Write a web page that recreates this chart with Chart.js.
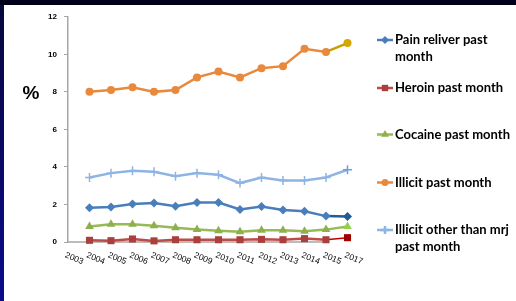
<!DOCTYPE html>
<html>
<head>
<meta charset="utf-8">
<script src="https://cdn.jsdelivr.net/npm/chart.js@4/dist/chart.umd.min.js"></script>
<style>
html, body { margin: 0; padding: 0; }
body { width: 516px; height: 301px; overflow: hidden; position: relative;
  background: linear-gradient(180deg, #07073c 0%, #0b0b8c 100%); }
#topband { position: absolute; left: 0; top: 0; width: 516px; height: 5px; background: #00001a; }
#panel { position: absolute; left: 4px; top: 5px; width: 512px; height: 296px; background: #fff; }
</style>
</head>
<body>
<div id="topband"></div>
<div id="panel"><canvas id="drugChart" width="512" height="296"></canvas></div>
<script>
// tick labels along the bottom (2016 is missing in the original)
const axisLabels = ['2003', '2004', '2005', '2006', '2007', '2008', '2009', '2010',
  '2011', '2012', '2013', '2014', '2015', '2017'];
// years that have data
const years = ['2004', '2005', '2006', '2007', '2008', '2009', '2010',
  '2011', '2012', '2013', '2014', '2015', '2017'];

const painReliever = [1.82, 1.87, 2.03, 2.08, 1.9, 2.1, 2.1, 1.73, 1.89, 1.71, 1.64, 1.38, 1.36];
const heroin = [0.09, 0.07, 0.16, 0.06, 0.12, 0.12, 0.12, 0.12, 0.14, 0.12, 0.18, 0.12, 0.23];
const cocaine = [0.83, 0.94, 0.94, 0.87, 0.76, 0.67, 0.6, 0.55, 0.62, 0.63, 0.57, 0.66, 0.83];
const illicit = [8.0, 8.1, 8.24, 8.0, 8.1, 8.77, 9.08, 8.77, 9.26, 9.37, 10.3, 10.13, 10.6];
const illicitOther = [3.44, 3.67, 3.79, 3.74, 3.51, 3.67, 3.58, 3.14, 3.44, 3.28, 3.28, 3.44, 3.85];

const yTicks = [0, 2, 4, 6, 8, 10, 12];

const last = years.length - 1;
const toPoints = vals => vals.map((v, i) => ({ x: axisLabels.indexOf(years[i]), y: v }));

function series(label, vals, o) {
  return {
    label: label,
    data: toPoints(vals),
    borderColor: o.color,
    borderWidth: 2.5,
    pointStyle: o.style,
    pointRadius: o.radius,
    pointBorderWidth: o.style === 'cross' ? 1.5 : 0,
    pointBackgroundColor: ctx => ctx.dataIndex === last ? o.lastMarker : o.marker,
    pointBorderColor: ctx => ctx.dataIndex === last ? o.lastMarker : o.marker,
    segment: {
      borderColor: ctx => ctx.p1DataIndex === last ? o.lastLine : undefined,
      borderWidth: ctx => ctx.p1DataIndex === last ? (o.lastWidth || 2.5) : undefined
    },
    clip: false,
    tension: 0
  };
}

const datasets = [
  series('Pain reliver past month', painReliever,
    { color: '#4a7ebb', marker: '#4a7ebb', lastLine: '#1f5c99', lastMarker: '#1f5c99', style: 'rectRot', radius: 4.5 }),
  series('Heroin past month', heroin,
    { color: '#be4b48', marker: '#a9403d', lastLine: '#c00000', lastMarker: '#a00000', lastWidth: 1.5, style: 'rect', radius: 5 }),
  series('Cocaine past month', cocaine,
    { color: '#98b954', marker: '#8db04c', lastLine: '#9bbb59', lastMarker: '#92d050', style: 'triangle', radius: 5 }),
  series('Illicit past month', illicit,
    { color: '#e8893c', marker: '#e8893c', lastLine: '#c5a000', lastMarker: '#d4a800', style: 'circle', radius: 4 }),
  series('Illicit other than mrj past month', illicitOther,
    { color: '#8eb4e3', marker: '#8eb4e3', lastLine: '#8eb4e3', lastMarker: '#6fa0dc', style: 'cross', radius: 4.5 })
];

// legend rows: text lines and y position of first line
const legendRows = [
  { lines: ['Pain reliver past', 'month'], y: 35 },
  { lines: ['Heroin past month'], y: 83 },
  { lines: ['Cocaine past month'], y: 129.5 },
  { lines: ['Illicit past month'], y: 177.5 },
  { lines: ['Illicit other than mrj', 'past month'], y: 225 }
];

const extras = {
  id: 'extras',
  beforeDatasetsDraw(chart) {
    // x axis line only runs to the 2015 position
    const ctx = chart.ctx;
    const xs = chart.scales.x;
    const y = chart.chartArea.bottom;
    ctx.save();
    ctx.strokeStyle = '#a6a6a6';
    ctx.lineWidth = 1.5;
    ctx.beginPath();
    ctx.moveTo(xs.getPixelForValue(0), y);
    ctx.lineTo(xs.getPixelForValue(axisLabels.indexOf('2015')) + 2, y);
    ctx.stroke();
    ctx.restore();
  },
  afterDraw(chart) {
    const ctx = chart.ctx;
    const xs = chart.scales.x;
    ctx.save();
    // rotated year labels
    ctx.fillStyle = '#000';
    ctx.font = '8.5px "Liberation Sans", Arial, sans-serif';
    ctx.textAlign = 'left';
    ctx.textBaseline = 'top';
    axisLabels.forEach((lab, i) => {
      ctx.save();
      ctx.translate(xs.getPixelForValue(i) - 1, chart.chartArea.bottom + 9);
      ctx.rotate(22 * Math.PI / 180);
      ctx.fillText(lab, 0, 0);
      ctx.restore();
    });
    // percent sign
    ctx.font = 'bold 19px "Liberation Sans", Arial, sans-serif';
    ctx.textAlign = 'center';
    ctx.textBaseline = 'middle';
    ctx.fillText('%', 27, 89);
    // legend
    ctx.font = 'bold 13px Lato, "Liberation Sans", sans-serif';
    ctx.textAlign = 'left';
    legendRows.forEach((row, i) => {
      const ds = chart.data.datasets[i];
      const el = chart.getDatasetMeta(i).data[0];
      ctx.strokeStyle = ds.borderColor;
      ctx.lineWidth = 2.5;
      ctx.beginPath();
      ctx.moveTo(373, row.y);
      ctx.lineTo(389, row.y);
      ctx.stroke();
      ctx.fillStyle = el.options.backgroundColor;
      ctx.strokeStyle = el.options.borderColor;
      Chart.helpers.drawPoint(ctx, {
        pointStyle: ds.pointStyle, radius: ds.pointRadius - 0.5, rotation: 0,
        borderWidth: ds.pointStyle === 'cross' ? 1.5 : 0
      }, 381, row.y);
      ctx.fillStyle = '#000';
      row.lines.forEach((t, k) => ctx.fillText(t, 391, row.y + k * 17));
    });
    ctx.restore();
  }
};

new Chart(document.getElementById('drugChart'), {
  type: 'line',
  data: { datasets: datasets },
  plugins: [extras],
  options: {
    responsive: false,
    animation: false,
    layout: { padding: { left: 0, top: 10, right: 157.75, bottom: 0 } },
    plugins: { legend: { display: false }, tooltip: { enabled: false } },
    scales: {
      x: {
        type: 'linear',
        min: 0,
        max: 13.5,
        grid: { display: false },
        border: { display: false },
        ticks: { display: false },
        afterFit: s => { s.height = 59; }
      },
      y: {
        min: 0,
        max: 12,
        afterBuildTicks: s => { s.ticks = yTicks.map(v => ({ value: v })); },
        grid: { drawOnChartArea: false, drawTicks: true, tickLength: 4, color: '#a6a6a6', lineWidth: 1 },
        border: { display: true, color: '#a6a6a6', width: 1.5 },
        ticks: {
          padding: 7,
          color: '#000',
          font: { family: '"Liberation Sans", Arial, sans-serif', size: 8, weight: 'bold' }
        },
        afterFit: s => { s.width = 64; }
      }
    }
  }
});
</script>
</body>
</html>
